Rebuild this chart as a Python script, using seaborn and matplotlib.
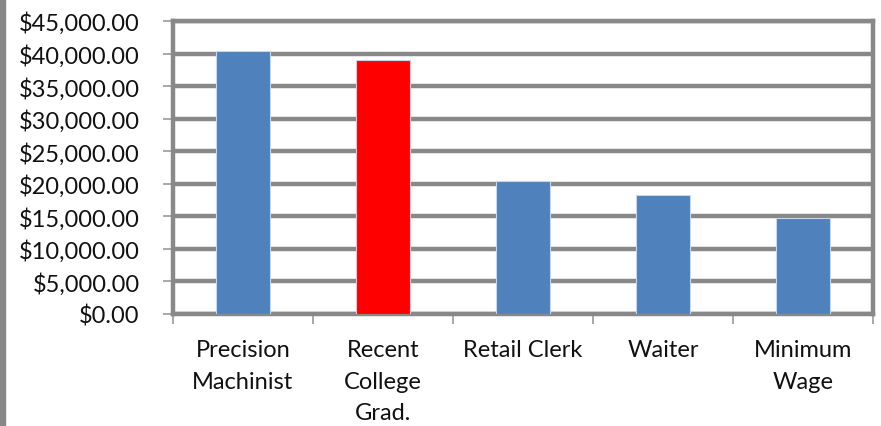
import matplotlib as mpl
import matplotlib.pyplot as plt
import seaborn as sns
import pandas as pd
from matplotlib.ticker import FuncFormatter, FixedLocator
from matplotlib.patches import Rectangle

jobs = ["Precision\nMachinist", "Recent\nCollege\nGrad.", "Retail Clerk", "Waiter", "Minimum\nWage"]
salary = [40400, 39000, 20500, 18200, 14800]
bar_colors = ["#4F81BD", "#FF0000", "#4F81BD", "#4F81BD", "#4F81BD"]

sns.set_style("white")
plt.rcParams["font.family"] = ["Lato", "DejaVu Sans"]

df = pd.DataFrame({"job": jobs, "salary": salary})

fig = plt.figure(figsize=(8.81, 4.27), dpi=100)
ax = fig.add_axes([173 / 881, 112 / 427, 700 / 881, 293 / 427])

sns.barplot(data=df, x="job", y="salary", hue="job", palette=bar_colors,
            width=0.39, legend=False, ax=ax, edgecolor="#c9d6ea", linewidth=0.8,
            saturation=1, zorder=3)

grid_gray = "#888888"
ax.set_ylim(0, 45000)
ax.set_yticks(range(0, 45001, 5000))
ax.yaxis.set_major_formatter(FuncFormatter(lambda v, p: f"${v:,.2f}"))
ax.grid(axis="y", color=grid_gray, linewidth=3.2, zorder=0)
ax.set_axisbelow(True)
for s in ax.spines.values():
    s.set_color(grid_gray)
    s.set_linewidth(3.2)

ax.set_xlim(-0.5, len(jobs) - 0.5)
ax.xaxis.set_minor_locator(FixedLocator([i - 0.5 for i in range(len(jobs) + 1)]))
ax.tick_params(axis="x", which="major", length=0, pad=18, labelsize=17, labelcolor="#111111")
ax.tick_params(axis="x", which="minor", length=7, width=1.2, color="#999999", direction="out", bottom=True)
ax.tick_params(axis="y", length=7, width=1.2, color="#999999", direction="out", left=True, pad=17,
               labelsize=17, labelcolor="#111111")
for lab in ax.get_xticklabels():
    lab.set_linespacing(1.62)
    lab.set_verticalalignment("top")

ax.set_xlabel("")
ax.set_ylabel("")

fig.patches.append(Rectangle((0, 0), 5 / 881, 1, transform=fig.transFigure,
                             color=grid_gray, zorder=0))

fig.savefig("out.png", dpi=100)
